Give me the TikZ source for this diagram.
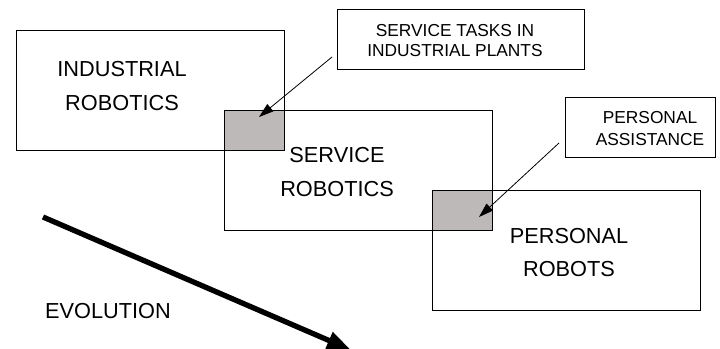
\documentclass[tikz,border=0pt]{standalone}
\usepackage{fontspec}
\setmainfont{Liberation Sans}
\usetikzlibrary{arrows.meta, positioning, backgrounds}

\definecolor{overlap}{RGB}{189,185,184}

\tikzset{
  area/.style = {draw, line width=0.6pt, inner sep=0pt,
    minimum width=201pt, minimum height=90pt},
  callout/.style = {draw, line width=0.6pt, inner sep=0pt, minimum height=45pt},
  areatext/.style = {align=center, inner sep=0pt, font=\fontsize{16.3}{25}\selectfont},
  callouttext/.style = {align=center, inner sep=0pt, font=\fontsize{13}{15}\selectfont},
  pointer/.style = {line width=0.6pt, -{Triangle[length=11pt, width=7pt]}},
  trend/.style = {line width=4pt, -{Triangle[length=18pt, width=13pt]}}
}

\begin{document}
\begin{tikzpicture}[x=0.75pt, y=-0.75pt]
\useasboundingbox (0,0) rectangle (720,349);
% the three fields
\node[area] (ind)  at (150,90)    {};
\node[area] (serv) at (358.5,170) {};
\node[area] (pers) at (566,250)   {};
\node[areatext] (ind-text)  at (122,86)    {INDUSTRIAL\\ROBOTICS};
\node[areatext] (serv-text) at (337,172)   {SERVICE\\ROBOTICS};
\node[areatext] (pers-text) at (569,252.5) {PERSONAL\\ROBOTS};
% shaded overlaps
\begin{scope}[on background layer]
\fill[overlap] (serv.north west) rectangle (ind.south east);
\fill[overlap] (pers.north west) rectangle (serv.south east);
\end{scope}
% callouts
\node[callout, minimum width=185pt] (tasks)  at (461,39.5) {};
\node[callout, minimum width=112.5pt] (assist) at (640,127) {};
\node[callouttext] (tasks-text) at (455,41) {SERVICE TASKS IN\\INDUSTRIAL PLANTS};
\node[callouttext, font=\fontsize{13}{17}\selectfont] (assist-text) at (650,128.5) {PERSONAL\\ASSISTANCE};
\coordinate (tasks-tail)  at (332,57);
\coordinate (tasks-tip)   at (259,117);
\coordinate (assist-tail) at (559,143);
\coordinate (assist-tip)  at (479,217);
\draw[pointer] (tasks-tail) -- (tasks-tip);
\draw[pointer] (assist-tail) -- (assist-tip);
% evolution
\coordinate (evo-tail) at (43,217);
\coordinate (evo-tip)  at (351,350);
\draw[trend] (evo-tail) -- (evo-tip);
\node[areatext] (evo-text) at (108,311) {EVOLUTION};
\end{tikzpicture}
\end{document}
